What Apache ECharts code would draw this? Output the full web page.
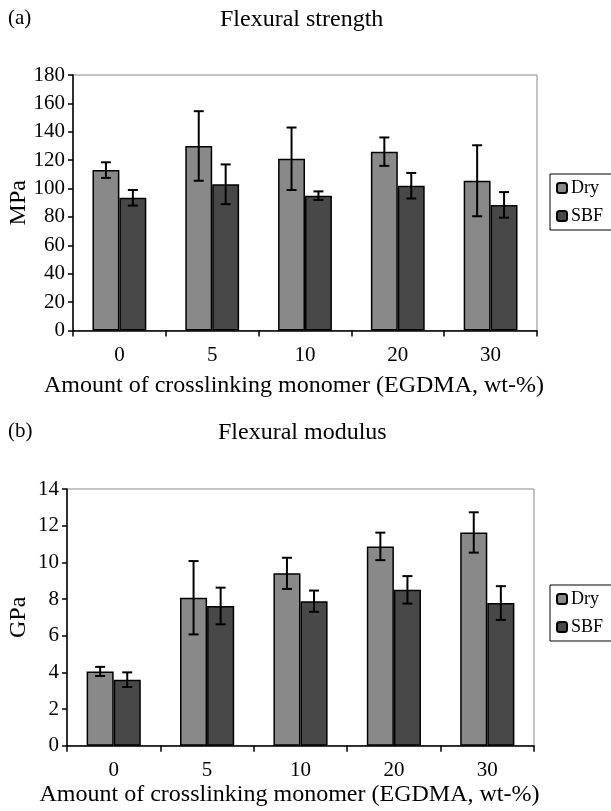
<!DOCTYPE html>
<html>
<head>
<meta charset="utf-8">
<script src="https://cdn.jsdelivr.net/npm/echarts@6/dist/echarts.min.js"></script>
<style>
html,body{margin:0;padding:0;background:#fff;}
#chart{width:611px;height:811px;}
</style>
</head>
<body>
<div id="chart"></div>
<script>
var categories = ['0', '5', '10', '20', '30'];
var strengthDry = [113, 130, 121, 126, 105.5];
var strengthDryErr = [5.5, 24.5, 22, 10, 25];
var strengthSBF = [93.5, 103, 95, 102, 88.5];
var strengthSBFErr = [5.5, 14, 3, 9, 9];
var modulusDry = [4.05, 8.07, 9.4, 10.87, 11.63];
var modulusDryErr = [0.25, 2.0, 0.85, 0.75, 1.1];
var modulusSBF = [3.6, 7.62, 7.88, 8.5, 7.78];
var modulusSBFErr = [0.4, 1.0, 0.58, 0.75, 0.92];

var FONT = 'Liberation Serif';
var DRY_COLOR = '#898989';
var SBF_COLOR = '#484848';
var CAT_GAP = 0.42;

function errData(vals, errs) {
  return vals.map(function (v, i) { return [i, v, errs[i]]; });
}

function errSeries(vals, errs, gridIdx, side) {
  return {
    type: 'custom',
    xAxisIndex: gridIdx, yAxisIndex: gridIdx,
    silent: true, z: 10,
    data: errData(vals, errs),
    renderItem: function (params, api) {
      var i = api.value(0), v = api.value(1), e = api.value(2);
      var band = api.size([1, 0])[0];
      var off = side * band * (1 - CAT_GAP) / 4;
      var top = api.coord([i, v + e]);
      var bot = api.coord([i, v - e]);
      var x = top[0] + off;
      var hw = 5;
      var st = { stroke: '#000', lineWidth: 2 };
      return {
        type: 'group',
        children: [
          { type: 'line', shape: { x1: x, y1: top[1], x2: x, y2: bot[1] }, style: st },
          { type: 'line', shape: { x1: x - hw, y1: top[1], x2: x + hw, y2: top[1] }, style: st },
          { type: 'line', shape: { x1: x - hw, y1: bot[1], x2: x + hw, y2: bot[1] }, style: st }
        ]
      };
    }
  };
}

function barSeries(name, vals, color, gridIdx) {
  return {
    name: name, type: 'bar',
    xAxisIndex: gridIdx, yAxisIndex: gridIdx,
    data: vals,
    barGap: '0%', barCategoryGap: (CAT_GAP * 100) + '%',
    itemStyle: { color: color, borderColor: '#000', borderWidth: 1.5 }
  };
}

function xAxis(gridIdx, nameGap) {
  return {
    type: 'category', gridIndex: gridIdx, data: categories,
    axisLine: { lineStyle: { color: '#000', width: 1.5 } },
    axisTick: { show: true, length: 6, lineStyle: { color: '#000', width: 1.5 } },
    axisLabel: { color: '#000', fontFamily: FONT, fontSize: 21, margin: 14 },
    name: 'Amount of crosslinking monomer (EGDMA, wt-%)',
    nameLocation: 'middle', nameGap: nameGap,
    nameTextStyle: { color: '#000', fontFamily: FONT, fontSize: 24, padding: [0, 22, 0, 0] }
  };
}

function yAxis(gridIdx, name, max, interval, nameGap) {
  return {
    type: 'value', gridIndex: gridIdx, min: 0, max: max, interval: interval,
    splitLine: { show: false },
    axisLine: { show: true, lineStyle: { color: '#000', width: 1.5 } },
    axisTick: { show: true, length: 5, lineStyle: { color: '#000', width: 1.5 } },
    axisLabel: { color: '#000', fontFamily: FONT, fontSize: 21, margin: 8 },
    name: name, nameLocation: 'middle', nameGap: nameGap, nameRotate: 90,
    nameMoveOverlap: false,
    nameTextStyle: { color: '#000', fontFamily: FONT, fontSize: 24 }
  };
}

function legend(top) {
  return {
    data: ['Dry', 'SBF'], orient: 'vertical',
    left: 550, top: top,
    padding: [5, 30, 5, 6],
    itemWidth: 10, itemHeight: 10, itemGap: 10,
    borderColor: '#000', borderWidth: 1,
    selectedMode: false,
    textStyle: { color: '#000', fontFamily: FONT, fontSize: 18, padding: [0, 0, 0, -1] }
  };
}

var titleStyle = { color: '#000', fontFamily: FONT, fontSize: 24, fontWeight: 'normal' };

var option = {
  backgroundColor: '#fff',
  animation: false,
  title: [
    { text: '(a)', left: 8, top: 8, padding: 0, textStyle: Object.assign({}, titleStyle, { fontSize: 21 }) },
    { text: 'Flexural strength', left: 220, top: 8, padding: 0, textStyle: titleStyle },
    { text: '(b)', left: 8, top: 421, padding: 0, textStyle: Object.assign({}, titleStyle, { fontSize: 21 }) },
    { text: 'Flexural modulus', left: 218, top: 421, padding: 0, textStyle: titleStyle }
  ],
  legend: [legend(174), legend(585)],
  grid: [
    { left: 73, width: 464, top: 75, height: 255.5, show: true, borderColor: '#888', borderWidth: 1, backgroundColor: 'transparent', outerBoundsMode: 'none', containLabel: false },
    { left: 67, width: 467, top: 489, height: 256.7, show: true, borderColor: '#888', borderWidth: 1, backgroundColor: 'transparent', outerBoundsMode: 'none', containLabel: false }
  ],
  xAxis: [xAxis(0, 43), xAxis(1, 37)],
  yAxis: [yAxis(0, 'MPa', 180, 20, 42), yAxis(1, 'GPa', 14, 2, 36)],
  series: [
    barSeries('Dry', strengthDry, DRY_COLOR, 0),
    barSeries('SBF', strengthSBF, SBF_COLOR, 0),
    barSeries('Dry', modulusDry, DRY_COLOR, 1),
    barSeries('SBF', modulusSBF, SBF_COLOR, 1),
    errSeries(strengthDry, strengthDryErr, 0, -1),
    errSeries(strengthSBF, strengthSBFErr, 0, 1),
    errSeries(modulusDry, modulusDryErr, 1, -1),
    errSeries(modulusSBF, modulusSBFErr, 1, 1)
  ]
};

var chart = echarts.init(document.getElementById('chart'), null, { renderer: 'canvas' });
chart.setOption(option);
</script>
</body>
</html>
